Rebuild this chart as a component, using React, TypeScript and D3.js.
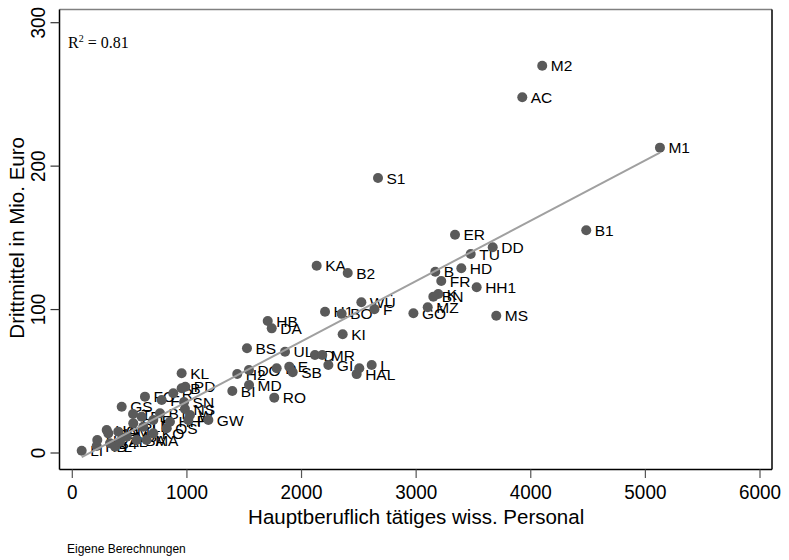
import React from "react";
import * as d3 from "d3";

const labels = [
  "M2","AC","M1","S1","B1","ER","DD","TÜ","HD","B","FR","HH1","KA","B2","K","BN","MZ","GÖ","MS","WÜ","F","H1","BO","KI",
  "HB","DA","BS","UL","D","MR","GI","L","HAL","","H2","DO","D","E","SB","MD","BI","RO",
  "KL","GW","P","PD","FO","GS","T","HS","LI",
  "HB","HI","B4","L","AL","AM","M3","BA","MA","SI","FL","LB","E","KO","BT","F","OS","HH","R","B","SN","NS","W","HO"
];
const staff = [
  4100,3926,5127,2667,4484,3339,3668,3476,3394,3167,3219,3528,2132,2403,3193,3150,3101,2976,3699,2522,2636,2205,2350,2359,
  1705,1740,1524,1856,2117,2181,2234,2612,2481,2504,1439,1541,1783,1893,1923,1542,1396,1762,
  954,1187,1012,986,634,431,530,314,82,
  213,218,329,373,416,401,475,562,649,532,605,619,707,707,765,780,824,852,881,954,975,983,1027,300
];
const funds = [
  270.0,248.0,212.9,191.7,155.3,152.2,143.4,138.7,128.8,126.4,119.9,115.5,130.6,125.5,110.9,109.0,101.6,97.4,95.7,105.1,100.3,98.5,97.0,82.8,
  92.0,86.9,73.0,70.6,68.3,68.3,61.4,61.4,55.0,59.1,55.1,57.9,59.1,60.2,56.3,47.4,43.2,38.6,
  55.6,23.0,23.0,46.2,39.3,32.3,27.2,13.7,1.6,
  4.9,9.1,6.8,4.4,7.9,14.9,11.4,9.1,9.1,20.7,25.3,18.3,23.0,13.7,27.7,37.0,17.2,21.8,41.6,45.1,35.6,30.7,26.5,16.0
];
const xTicks = [0, 1000, 2000, 3000, 4000, 5000, 6000];
const yTicks = [0, 100, 200, 300];
const fitIntercept = -6.4;
const fitSlope = 0.0421;
const rSquared = "0.81";

const W = 789, H = 560;
const box = { left: 59.5, right: 772, top: 9.5, bottom: 469.5 };
const sans = "'Liberation Sans', Arial, Helvetica, sans-serif";

export default function App() {
  const x = d3.scaleLinear().domain([0, 6000]).range([72.3, 760]);
  const y = d3.scaleLinear().domain([0, 300]).range([453, 22.7]);
  const xMin = d3.min(staff) as number;
  const xMax = d3.max(staff) as number;
  const line = d3.line<number>().x((d) => x(d)).y((d) => y(fitIntercept + fitSlope * d));
  const pts = labels.map((l, i) => ({ l, sx: staff[i], fy: funds[i] }));
  return (
    <svg width={W} height={H} style={{ position: "absolute", left: 0, top: 0, background: "#fff" }}>
      <rect x={0} y={0} width={W} height={H} fill="#fff" />
      {/* frame */}
      <line x1={box.left} x2={box.right} y1={box.top} y2={box.top} stroke="#808080" strokeWidth={1.5} />
      <line x1={box.right} x2={box.right} y1={box.top} y2={box.bottom} stroke="#000" strokeWidth={1.5} />
      <line x1={box.left} x2={box.left} y1={box.top} y2={box.bottom} stroke="#000" strokeWidth={1.5} />
      <line x1={box.left} x2={box.right} y1={box.bottom} y2={box.bottom} stroke="#000" strokeWidth={1.5} />
      {/* x ticks */}
      {xTicks.map((t) => (
        <g key={"x" + t}>
          <line x1={x(t)} x2={x(t)} y1={box.bottom} y2={box.bottom + 8.5} stroke="#555" strokeWidth={1.2} />
          <text transform={`translate(${x(t)},499) scale(0.9,1)`} textAnchor="middle" fontFamily={sans} fontSize={21} fill="#000">{t}</text>
        </g>
      ))}
      {/* y ticks */}
      {yTicks.map((t) => (
        <g key={"y" + t}>
          <line x1={box.left - 9} x2={box.left} y1={y(t)} y2={y(t)} stroke="#333" strokeWidth={1.2} />
          <text transform={`translate(45,${y(t)}) rotate(-90) scale(0.9,1)`} textAnchor="middle" fontFamily={sans} fontSize={21} fill="#000">{t}</text>
        </g>
      ))}
      {/* axis titles */}
      <text x={(x(0) + x(6000)) / 2} y={524} textAnchor="middle" fontFamily={sans} fontSize={20.5} fill="#000">
        Hauptberuflich tätiges wiss. Personal
      </text>
      <text transform={`translate(24,${(y(0) + y(300)) / 2}) rotate(-90)`} textAnchor="middle" fontFamily={sans} fontSize={20.5} fill="#000">
        Drittmittel in Mio. Euro
      </text>
      <text x={67} y={553} fontFamily={sans} fontSize={12} fill="#000">Eigene Berechnungen</text>
      {/* R2 */}
      <text x={68} y={47.5} fontFamily="'Liberation Serif', 'Times New Roman', serif" fontSize={16} fill="#000">
        R<tspan dy={-6} fontSize={10}>2</tspan><tspan dy={6}> = {rSquared}</tspan>
      </text>
      {/* labels */}
      {pts.map((p, i) => (
        <text key={"t" + i} x={x(p.sx) + 8.5} y={y(p.fy)} dy="0.36em" fontFamily={sans} fontSize={15.5} fill="#000">
          {p.l}
        </text>
      ))}
      {/* points */}
      {pts.map((p, i) => (
        <circle key={"c" + i} cx={x(p.sx)} cy={y(p.fy)} r={5} fill="#5a5a5a" />
      ))}
      {/* fit line */}
      <path d={line([xMin, xMax]) || ""} stroke="#a0a0a0" strokeWidth={2} fill="none" />
    </svg>
  );
}
